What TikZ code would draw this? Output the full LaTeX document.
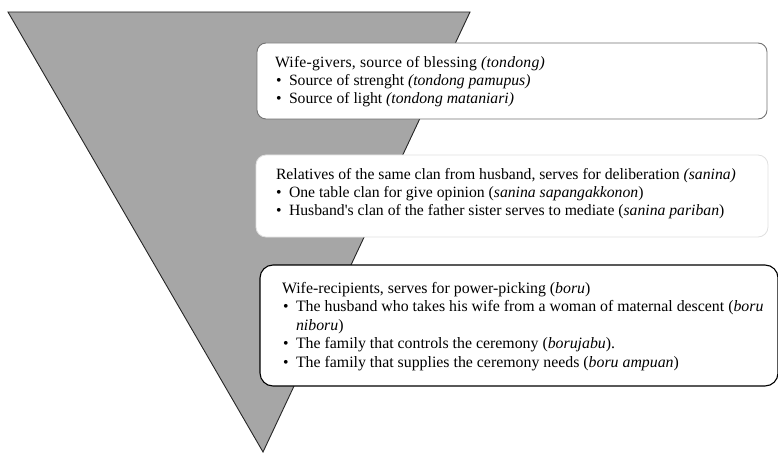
\documentclass[tikz,border=0pt]{standalone}
\usepackage{fontspec}
\setmainfont{Liberation Serif}
\begin{document}
\begin{tikzpicture}[x=1pt,y=-1pt,
  every node/.style={inner sep=0pt,outer sep=0pt},
  txt/.style={anchor=base west,font=\fontsize{15.7}{18}\selectfont},
  bul/.style={anchor=base west,font=\fontsize{15.7}{18}\selectfont},
  txtb/.style={anchor=base west,font=\fontsize{15.85}{18}\selectfont},
  panel/.style={rectangle,rounded corners=#1,fill=white},
]
\useasboundingbox (0,0) rectangle (778,454);
% inverted triangle
\coordinate (tl) at (8,12);
\coordinate (tr) at (470,12);
\coordinate (ap) at (263,452);
\draw[fill={rgb,255:red,166;green,166;blue,166},line width=0.9pt,draw=black!85,line join=miter]
  (tl) -- (tr) -- (ap) -- cycle;

% panel 1: wife-givers
\node[panel=9pt,draw=black!55,line width=0.9pt,minimum width=510,minimum height=76] (p1) at (512,81) {};
\node[txt] (t11) at (275,68) {\addfontfeatures{LetterSpace=1.5}Wife-givers, source of blessing \textit{(tondong)}};
\node[bul] (b12) at (276,86) {\textbullet};
\node[txt] (t12) at (289,86) {Source of strenght \textit{(tondong pamupus)}};
\node[bul] (b13) at (276,104) {\textbullet};
\node[txt] (t13) at (289,104) {Source of light \textit{(tondong mataniari)}};

% panel 2: same clan
\node[panel=10pt,draw=black!12,line width=0.8pt,minimum width=512,minimum height=82] (p2) at (512,196) {};
\node[txt] (t21) at (276,180) {Relatives of the same clan from husband, serves for deliberation \textit{(sanina)}};
\node[bul] (b22) at (276,198) {\textbullet};
\node[txt] (t22) at (289,198) {One table clan for give opinion (\textit{sanina sapangakkonon})};
\node[bul] (b23) at (276,216) {\textbullet};
\node[txt] (t23) at (289,216) {Husband\textquotesingle s clan of the father sister serves to mediate (\textit{sanina pariban})};

% panel 3: wife-recipients
\node[panel=13pt,draw=black,line width=1.1pt,minimum width=518,minimum height=121] (p3) at (519,325.5) {};
\node[txtb] (t31) at (282,293) {Wife-recipients, serves for power-picking (\textit{boru})};
\node[bul] (b32) at (283,311.5) {\textbullet};
\node[txtb] (t32) at (296,311.5) {The husband who takes his wife from a woman of maternal descent (\textit{boru}};
\node[txtb] (t32b) at (296,330) {\textit{niboru})};
\node[bul] (b33) at (283,348.5) {\textbullet};
\node[txtb] (t33) at (296,348.5) {The family that controls the ceremony (\textit{borujabu}).};
\node[bul] (b34) at (283,367) {\textbullet};
\node[txtb] (t34) at (296,367) {The family that supplies the ceremony needs (\textit{boru ampuan})};
\end{tikzpicture}
\end{document}
